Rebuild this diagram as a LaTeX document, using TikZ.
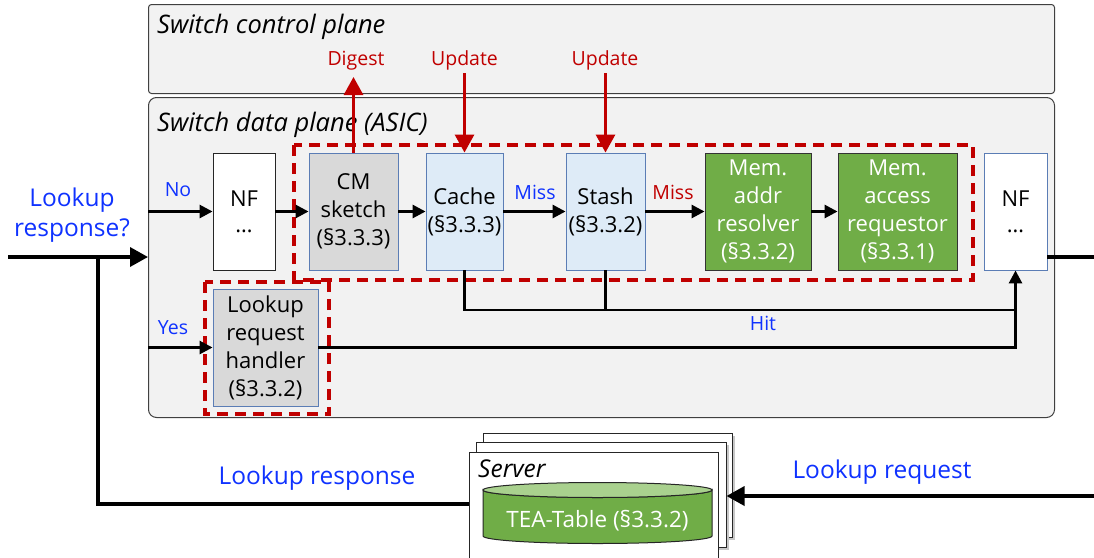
\documentclass[tikz,border=0pt]{standalone}
\usepackage{fontspec}
\setmainfont{Open Sans}
\usetikzlibrary{arrows.meta,calc}

\definecolor{panelgray}{HTML}{F2F2F2}
\definecolor{nodegray}{HTML}{D9D9D9}
\definecolor{nodeblue}{HTML}{DEEBF7}
\definecolor{edgeblue}{HTML}{5B7DB5}
\definecolor{memgreen}{HTML}{70AD47}
\definecolor{topgreen}{HTML}{A9D18E}
\definecolor{tred}{HTML}{C00000}
\definecolor{tblue}{RGB}{15,50,255}

\tikzset{
  panel/.style={rectangle, draw=black!75, line width=1pt, fill=panelgray, inner sep=0pt},
  blk/.style={rectangle, draw, line width=0.9pt, minimum height=117pt, align=center,
    inner sep=0pt, font=\fontsize{22}{28}\selectfont},
  graynode/.style={blk, fill=nodegray, draw=edgeblue},
  bluenode/.style={blk, fill=nodeblue, draw=edgeblue},
  greennode/.style={blk, fill=memgreen, draw=black!80, text=white},
  srvbox/.style={rectangle, draw=black!85, line width=1pt, fill=white, inner sep=0pt},
  wire/.style={line width=2.8pt},
  flow/.style={wire, -{Triangle[length=13pt,width=13pt]}},
  bigwire/.style={line width=3.5pt},
  bigflow/.style={bigwire, -{Triangle[length=18pt,width=19pt]}},
  redflow/.style={draw=tred, line width=3pt, -{Triangle[length=18pt,width=19pt]}},
  dashbox/.style={draw=tred, line width=3.5pt, dash pattern=on 11pt off 7pt},
  lbl/.style={text=tblue, font=\fontsize{19.5}{22}\selectfont},
  redlbl/.style={text=tred, font=\fontsize{19.5}{22}\selectfont},
  biglbl/.style={text=tblue, font=\fontsize{24.5}{30}\selectfont, align=center},
  title/.style={anchor=west, inner sep=0pt, font=\fontsize{25.5}{28}\selectfont\itshape},
}

\begin{document}
\begin{tikzpicture}[x=1pt, y=-1pt]
\useasboundingbox (0,0) rectangle (1094,557);

% control and data planes
\node[panel, rounded corners=3pt, minimum width=906pt, minimum height=89pt, anchor=north west] (cp) at (148,4) {};
\node[panel, rounded corners=8pt, minimum width=906pt, minimum height=320pt, anchor=north west] (dp) at (148,97) {};
\node[title] (cptitle) at (157,27) {Switch control plane};
\node[title] (dptitle) at (157,125) {Switch data plane (ASIC)};

% pipeline stages
\node[blk, fill=white, draw=black!85, minimum width=62pt] (nf1) at (244,211.5) {NF\\[-2pt]\ldots};
\node[graynode, minimum width=89pt] (cm) at (353.5,211.5) {CM\\sketch\\(§3.3.3)};
\node[bluenode, minimum width=77pt] (cache) at (464.5,211.5) {Cache\\(§3.3.3)};
\node[bluenode, minimum width=79pt] (stash) at (605.5,211.5) {Stash\\(§3.3.2)};
\node[greennode, minimum width=106pt] (resolver) at (758,211.5) {Mem.\\addr\\resolver\\(§3.3.2)};
\node[greennode, minimum width=119pt] (requestor) at (897.5,211.5) {Mem.\\access\\requestor\\(§3.3.1)};
\node[blk, fill=white, draw=edgeblue, minimum width=63pt] (nf2) at (1015.5,211.5) {NF\\[-2pt]\ldots};
\node[graynode, minimum width=105pt, minimum height=117pt] (handler) at (265.5,347.5) {Lookup\\request\\handler\\(§3.3.2)};

% server stack
\fill[black!22] (486,436) rectangle (735,540);
\node[srvbox, minimum width=249pt, minimum height=104pt] (srvback) at (607.5,485) {};
\fill[black!22] (479,445) rectangle (729,550);
\node[srvbox, minimum width=250pt, minimum height=105pt] (srvmid) at (601,494.5) {};
\node[srvbox, minimum width=249pt, minimum height=118pt] (srvfront) at (593.5,511) {};
\node[title, font=\fontsize{24.5}{27}\selectfont\itshape] (srvtitle) at (478,469) {Server};
% TEA-Table cylinder
\filldraw[fill=memgreen, draw=black!85, line width=1pt]
  (483,490) -- (483,536) arc[start angle=180, end angle=0, x radius=114.5, y radius=7.5]
  -- (712,490) arc[start angle=0, end angle=180, x radius=114.5, y radius=7.5] -- cycle;
\filldraw[fill=topgreen, draw=black!85, line width=1pt] (597.5,490) ellipse[x radius=114.5, y radius=7.5];
\node[text=white, font=\fontsize{22.5}{26}\selectfont] (tea) at (597.5,521) {TEA-Table (§3.3.2)};

% helper points
\coordinate (entry) at (8,257);
\coordinate (exit) at (1094,257);
\coordinate (resp) at (98,504);
\coordinate (req) at (1094,496);
\coordinate (hit) at (0,310);
\coordinate (upd) at (0,73);
\coordinate (dig) at (0,77);

% red dashed groups
\draw[dashbox] (294,145) rectangle (973,280);
\draw[dashbox] (205,282) rectangle (329,414);

% data plane connectors
\draw[flow] (dp.west |- nf1) -- (nf1.west);
\draw[flow] (nf1) -- (cm);
\draw[flow] (cm) -- (cache);
\draw[flow] (cache) -- (stash);
\draw[flow] (stash) -- (resolver);
\draw[flow] (resolver) -- (requestor);
\draw[flow] (dp.west |- handler) -- (handler.west);
\draw[wire] (cache.south) -- (cache.south |- hit) -- (hit -| nf2.south);
\draw[wire] (stash.south) -- (stash.south |- hit);
\draw[flow] (handler.east) -- (handler.east -| nf2.south) -- (nf2.south);
\draw[bigwire] (nf2.east |- exit) -- (exit);

% control plane interaction
\draw[redflow] (cm.north) -- (cm.north |- dig);
\draw[redflow] (cache.north |- upd) -- (cache.north);
\draw[redflow] (stash.north |- upd) -- (stash.north);

% outer connectors
\draw[bigflow] (entry) -- (entry -| dp.west);
\draw[bigwire] (srvfront.west |- resp) -- (resp) -- (resp |- entry);
\draw[bigflow] (req) -- (req -| srvmid.east);

% labels
\node[biglbl] (q) at (72,215) {Lookup\\response?};
\node[lbl] (no) at (178,190) {No};
\node[lbl] (yes) at (173,328) {Yes};
\node[lbl] (miss1) at (535,192) {Miss};
\node[redlbl] (miss2) at (673,192) {Miss};
\node[lbl] (hitlbl) at (763,323) {Hit};
\node[redlbl] (digest) at (356,61) {Digest};
\node[redlbl] (upd1) at (464.5,60) {Update};
\node[redlbl] (upd2) at (605,60) {Update};
\node[biglbl] (resplbl) at (317,478) {Lookup response};
\node[biglbl] (reqlbl) at (882,472) {Lookup request};
\end{tikzpicture}
\end{document}
